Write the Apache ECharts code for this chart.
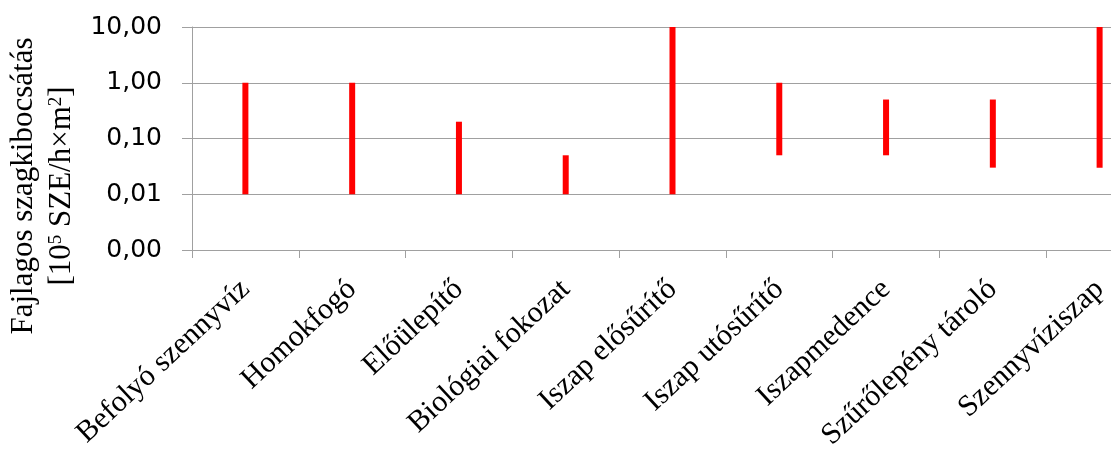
<!DOCTYPE html>
<html>
<head>
<meta charset="utf-8">
<script src="https://cdn.jsdelivr.net/npm/echarts@6/dist/echarts.min.js"></script>
<style>
  html, body { margin: 0; padding: 0; background: #ffffff; }
  #chart { width: 1111px; height: 461px; }
</style>
</head>
<body>
<div id="chart"></div>
<script>
// Odour emission ranges per treatment stage (low / high end of each range)
const categories = [
  'Befolyó szennyvíz',
  'Homokfogó',
  'Előülepítő',
  'Biológiai fokozat',
  'Iszap elősűrítő',
  'Iszap utósűrítő',
  'Iszapmedence',
  'Szűrőlepény tároló',
  'Szennyvíziszap'
];
const lowValues  = [0.01, 0.01, 0.01, 0.01, 0.01, 0.05, 0.05, 0.03, 0.03];
const highValues = [1, 1, 0.2, 0.05, 10, 1, 0.5, 0.5, 10];
const yTicks = [0.001, 0.01, 0.1, 1, 10];

const rangeData = categories.map((c, i) => [i, lowValues[i], highValues[i]]);

const chart = echarts.init(document.getElementById('chart'), null, { renderer: 'canvas' });

const serif = '"Liberation Serif", "Times New Roman", serif';
const gridColor = '#a0a0a0';

chart.setOption({
  animation: false,
  backgroundColor: '#ffffff',
  // the plot runs on past the right edge of the canvas
  grid: { left: 192, top: 27, height: 223, width: 961, containLabel: false, outerBoundsMode: 'none' },
  xAxis: {
    type: 'category',
    data: categories,
    boundaryGap: true,
    axisLine: { show: true, lineStyle: { color: gridColor, width: 1 } },
    axisTick: { show: true, length: 8, alignWithLabel: false, lineStyle: { color: gridColor } },
    axisLabel: {
      rotate: 43,
      interval: 0,
      margin: 35,
      fontFamily: serif,
      fontSize: 30,
      color: '#000000'
    },
    splitLine: { show: false }
  },
  yAxis: {
    type: 'log',
    logBase: 10,
    min: yTicks[0],
    max: yTicks[yTicks.length - 1],
    axisLine: { show: true, lineStyle: { color: gridColor, width: 1 } },
    axisTick: { show: true, inside: false, length: 10, lineStyle: { color: gridColor } },
    axisLabel: {
      margin: 30,
      fontFamily: '"DejaVu Sans", sans-serif',
      fontSize: 25,
      color: '#000000',
      formatter: v => Number(v).toFixed(2).replace('.', ',')
    },
    splitLine: { show: true, lineStyle: { color: gridColor, width: 1 } }
  },
  graphic: [
    {
      type: 'text',
      x: 24, y: 186,
      rotation: Math.PI / 2,
      style: {
        text: 'Fajlagos szagkibocsátás',
        font: '31px ' + serif,
        fill: '#000000',
        align: 'center',
        verticalAlign: 'middle'
      }
    },
    {
      type: 'text',
      x: 62, y: 186,
      rotation: Math.PI / 2,
      style: {
        text: '[10{sup|5} SZE/h×m{sup|2}]',
        font: '31px ' + serif,
        fill: '#000000',
        align: 'center',
        verticalAlign: 'middle',
        rich: {
          sup: { fontSize: 19, fontFamily: serif, verticalAlign: 'top', padding: [0, 0, 12, 0], fill: '#000000' }
        }
      }
    }
  ],
  series: [{
    type: 'custom',
    data: rangeData,
    encode: { x: 0, y: [1, 2] },
    renderItem: function (params, api) {
      const lo = api.coord([api.value(0), api.value(1)]);
      const hi = api.coord([api.value(0), api.value(2)]);
      const w = 6;
      return {
        type: 'rect',
        shape: { x: lo[0] - w / 2, y: hi[1], width: w, height: lo[1] - hi[1] },
        style: { fill: '#ff0000' }
      };
    }
  }]
});
</script>
</body>
</html>
